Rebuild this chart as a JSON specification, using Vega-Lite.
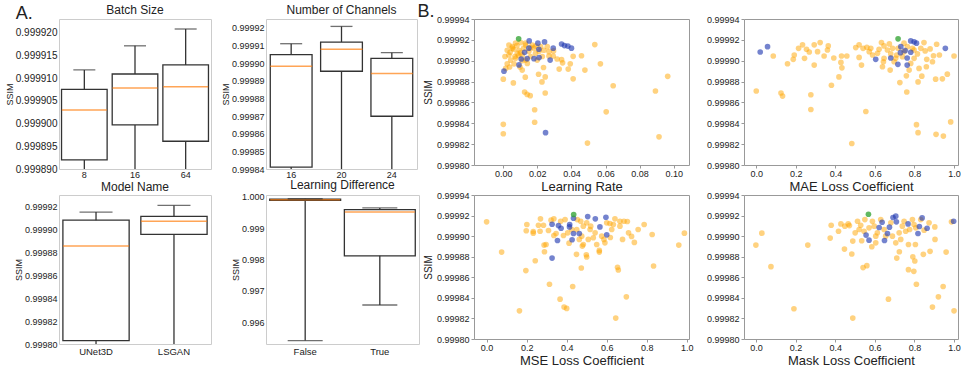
{
  "$schema": "https://vega.github.io/schema/vega-lite/v6.json",
  "padding": {"left": 4, "top": 2, "right": 0, "bottom": 0},
  "background": "white",
  "title": {"text": "A.", "anchor": "start", "frame": "bounds", "fontSize": 18, "offset": -20, "dx": 11},
  "columns": 4,
  "align": "none",
  "bounds": "flush",
  "spacing": {"row": 26, "column": 55},
  "concat": [
    {
      "width": 152, "height": 150,
      "title": {"text": "Batch Size"},
      "view": {"stroke": "#cccccc"},
      "data": {"values": [
        {"cat": "8", "lo": 0.99988, "q1": 0.999892, "med": 0.999903, "q3": 0.9999075, "hi": 0.9999118},
        {"cat": "16", "lo": 0.99988, "q1": 0.9998997, "med": 0.9999078, "q3": 0.9999109, "hi": 0.9999171},
        {"cat": "64", "lo": 0.99988, "q1": 0.9998961, "med": 0.9999081, "q3": 0.9999129, "hi": 0.9999208}
      ]},
      "encoding": {
        "x": {"field": "cat", "type": "nominal", "sort": null, "title": null,
              "scale": {"paddingInner": 0.1, "paddingOuter": 0.05},
              "axis": {"labelAngle": 0, "ticks": false, "labelPadding": 1, "labelFontSize": 9}}
      },
      "layer": [
        {"mark": {"type": "rule", "color": "#333333", "strokeWidth": 1.3, "clip": true},
         "encoding": {"y": {"field": "lo", "type": "quantitative", "title": "SSIM", "scale": {"domain": [0.99989, 0.999923], "zero": false, "nice": false},
            "axis": {"values": [0.99989, 0.999895, 0.9999, 0.999905, 0.99991, 0.999915, 0.99992], "format": ".6f", "labelOverlap": false, "labelFontSize": 10, "titleFontSize": 9, "titlePadding": 1, "ticks": false, "labelPadding": 2}},
          "y2": {"field": "hi"}}},
        {"mark": {"type": "bar", "fill": "white", "stroke": "#333333", "strokeWidth": 1.3, "clip": true},
         "encoding": {"y": {"field": "q1", "type": "quantitative", "title": "SSIM", "scale": {"domain": [0.99989, 0.999923], "zero": false, "nice": false},
            "axis": {"values": [0.99989, 0.999895, 0.9999, 0.999905, 0.99991, 0.999915, 0.99992], "format": ".6f", "labelOverlap": false, "labelFontSize": 10, "titleFontSize": 9, "titlePadding": 1, "ticks": false, "labelPadding": 2}}, "y2": {"field": "q3"}}},
        {"mark": {"type": "tick", "color": "#ff7f0e", "size": 45, "thickness": 1.5, "clip": true},
         "encoding": {"y": {"field": "med", "type": "quantitative", "title": "SSIM", "scale": {"domain": [0.99989, 0.999923], "zero": false, "nice": false},
            "axis": {"values": [0.99989, 0.999895, 0.9999, 0.999905, 0.99991, 0.999915, 0.99992], "format": ".6f", "labelOverlap": false, "labelFontSize": 10, "titleFontSize": 9, "titlePadding": 1, "ticks": false, "labelPadding": 2}}}},
        {"mark": {"type": "tick", "color": "#333333", "size": 22, "thickness": 1.3, "clip": true},
         "encoding": {"y": {"field": "hi", "type": "quantitative", "title": "SSIM", "scale": {"domain": [0.99989, 0.999923], "zero": false, "nice": false},
            "axis": {"values": [0.99989, 0.999895, 0.9999, 0.999905, 0.99991, 0.999915, 0.99992], "format": ".6f", "labelOverlap": false, "labelFontSize": 10, "titleFontSize": 9, "titlePadding": 1, "ticks": false, "labelPadding": 2}}}}
      ]
    },
    {
      "width": 151, "height": 150,
      "title": {"text": "Number of Channels"},
      "view": {"stroke": "#cccccc"},
      "data": {"values": [
        {"cat": "16", "lo": 0.99983, "q1": 0.9998411, "med": 0.9998982, "q3": 0.9999048, "hi": 0.999911},
        {"cat": "20", "lo": 0.99983, "q1": 0.9998954, "med": 0.9999078, "q3": 0.9999119, "hi": 0.9999208},
        {"cat": "24", "lo": 0.99983, "q1": 0.9998699, "med": 0.9998941, "q3": 0.9999027, "hi": 0.9999059}
      ]},
      "encoding": {
        "x": {"field": "cat", "type": "nominal", "sort": null, "title": null,
              "scale": {"paddingInner": 0.17, "paddingOuter": 0.085},
              "axis": {"labelAngle": 0, "ticks": false, "labelPadding": 1, "labelFontSize": 9}}
      },
      "layer": [
        {"mark": {"type": "rule", "color": "#333333", "strokeWidth": 1.3, "clip": true},
         "encoding": {"y": {"field": "lo", "type": "quantitative", "title": "SSIM", "scale": {"domain": [0.99984, 0.999925], "zero": false, "nice": false},
            "axis": {"values": [0.99984, 0.99985, 0.99986, 0.99987, 0.99988, 0.99989, 0.9999, 0.99991, 0.99992], "format": ".5f", "labelOverlap": false, "labelFontSize": 9, "titleFontSize": 9, "titlePadding": 1, "ticks": false, "labelPadding": 2}},
          "y2": {"field": "hi"}}},
        {"mark": {"type": "bar", "fill": "white", "stroke": "#333333", "strokeWidth": 1.3, "clip": true},
         "encoding": {"y": {"field": "q1", "type": "quantitative", "title": "SSIM", "scale": {"domain": [0.99984, 0.999925], "zero": false, "nice": false},
            "axis": {"values": [0.99984, 0.99985, 0.99986, 0.99987, 0.99988, 0.99989, 0.9999, 0.99991, 0.99992], "format": ".5f", "labelOverlap": false, "labelFontSize": 9, "titleFontSize": 9, "titlePadding": 1, "ticks": false, "labelPadding": 2}}, "y2": {"field": "q3"}}},
        {"mark": {"type": "tick", "color": "#ff7f0e", "size": 42, "thickness": 1.5, "clip": true},
         "encoding": {"y": {"field": "med", "type": "quantitative", "title": "SSIM", "scale": {"domain": [0.99984, 0.999925], "zero": false, "nice": false},
            "axis": {"values": [0.99984, 0.99985, 0.99986, 0.99987, 0.99988, 0.99989, 0.9999, 0.99991, 0.99992], "format": ".5f", "labelOverlap": false, "labelFontSize": 9, "titleFontSize": 9, "titlePadding": 1, "ticks": false, "labelPadding": 2}}}},
        {"mark": {"type": "tick", "color": "#333333", "size": 22, "thickness": 1.3, "clip": true},
         "encoding": {"y": {"field": "hi", "type": "quantitative", "title": "SSIM", "scale": {"domain": [0.99984, 0.999925], "zero": false, "nice": false},
            "axis": {"values": [0.99984, 0.99985, 0.99986, 0.99987, 0.99988, 0.99989, 0.9999, 0.99991, 0.99992], "format": ".5f", "labelOverlap": false, "labelFontSize": 9, "titleFontSize": 9, "titlePadding": 1, "ticks": false, "labelPadding": 2}}}}
      ]
    },
    {
      "width": 215, "height": 146,
      "title": {"text": "B.", "anchor": "start", "frame": "bounds", "fontSize": 18, "offset": -6, "dx": -6},
      "view": {"stroke": "#999999"},
      "data": {"values": [
        {"x":0.0537,"y":0.9999155,"g":"o"},{"x":0.041,"y":0.9999042,"g":"o"},{"x":0.0459,"y":0.9999048,"g":"o"},{"x":0.057,"y":0.999897,"g":"o"},{"x":0.0479,"y":0.999891,"g":"o"},{"x":0.041,"y":0.9998826,"g":"o"},{"x":0.0965,"y":0.999885,"g":"o"},{"x":0.0645,"y":0.999876,"g":"o"},{"x":0.0893,"y":0.999871,"g":"o"},{"x":0.0604,"y":0.999851,"g":"o"},{"x":0.0914,"y":0.999827,"g":"o"},{"x":0.0494,"y":0.999821,"g":"o"},{"x":0.0,"y":0.999839,"g":"o"},{"x":0.0,"y":0.99983,"g":"o"},{"x":0.0184,"y":0.999853,"g":"o"},{"x":0.0184,"y":0.999841,"g":"o"},{"x":0.0125,"y":0.99987,"g":"o"},{"x":0.014,"y":0.9998677,"g":"o"},{"x":0.0158,"y":0.9998665,"g":"o"},{"x":0.0246,"y":0.999869,"g":"o"},{"x":0.0,"y":0.9998823,"g":"o"},{"x":0.0059,"y":0.9998787,"g":"o"},{"x":0.0129,"y":0.9998842,"g":"o"},{"x":0.0227,"y":0.9998797,"g":"o"},{"x":0.0246,"y":0.9998845,"g":"o"},{"x":0.0207,"y":0.999887,"g":"o"},{"x":0.0236,"y":0.9998935,"g":"o"},{"x":0.0328,"y":0.999892,"g":"o"},{"x":0.0381,"y":0.999892,"g":"o"},{"x":0.0393,"y":0.999897,"g":"o"},{"x":0.0348,"y":0.999898,"g":"o"},{"x":0.0316,"y":0.9999016,"g":"o"},{"x":0.0342,"y":0.999901,"g":"o"},{"x":0.0293,"y":0.9999045,"g":"o"},{"x":0.0111,"y":0.999891,"g":"o"},{"x":0.0098,"y":0.999894,"g":"o"},{"x":0.0037,"y":0.999894,"g":"o"},{"x":0.0023,"y":0.999897,"g":"o"},{"x":0.0063,"y":0.999897,"g":"o"},{"x":0.001,"y":0.999904,"g":"o"},{"x":0.0033,"y":0.9999055,"g":"o"},{"x":0.0023,"y":0.99991,"g":"o"},{"x":0.0053,"y":0.999912,"g":"o"},{"x":0.0072,"y":0.999917,"g":"o"},{"x":0.0102,"y":0.9999174,"g":"o"},{"x":0.0131,"y":0.999915,"g":"o"},{"x":0.017,"y":0.999915,"g":"o"},{"x":0.0043,"y":0.9999006,"g":"o"},{"x":0.0082,"y":0.999907,"g":"o"},{"x":0.0111,"y":0.9999055,"g":"o"},{"x":0.0072,"y":0.9999023,"g":"o"},{"x":0.0131,"y":0.9999006,"g":"o"},{"x":0.016,"y":0.999904,"g":"o"},{"x":0.0189,"y":0.999907,"g":"o"},{"x":0.0219,"y":0.9999135,"g":"o"},{"x":0.0238,"y":0.99991,"g":"o"},{"x":0.0258,"y":0.9999135,"g":"o"},{"x":0.0268,"y":0.9999087,"g":"o"},{"x":0.018,"y":0.999912,"g":"o"},{"x":0.0053,"y":0.9999135,"g":"o"},{"x":0.0092,"y":0.99991,"g":"o"},{"x":0.0033,"y":0.999915,"g":"o"},{"x":0.0068,"y":0.999904,"g":"o"},{"x":0.0014,"y":0.9998926,"g":"o"},{"x":0.0111,"y":0.9999,"g":"o"},{"x":0.0102,"y":0.9999077,"g":"o"},{"x":0.0199,"y":0.9999006,"g":"o"},{"x":0.0229,"y":0.999904,"g":"o"},{"x":0.0141,"y":0.9998974,"g":"o"},{"x":0.0268,"y":0.9999045,"g":"o"},{"x":0.0295,"y":0.9999094,"g":"o"},{"x":0.006,"y":0.999911,"g":"o"},{"x":0.008,"y":0.9999145,"g":"o"},{"x":0.012,"y":0.999912,"g":"o"},{"x":0.015,"y":0.999909,"g":"o"},{"x":0.004,"y":0.999908,"g":"o"},{"x":0.009,"y":0.999905,"g":"o"},{"x":0.019,"y":0.999914,"g":"o"},{"x":0.021,"y":0.999909,"g":"o"},{"x":0.013,"y":0.999917,"g":"o"},{"x":0.016,"y":0.9999125,"g":"o"},
        {"x":0.0152,"y":0.999919,"g":"b"},{"x":0.0203,"y":0.9999168,"g":"b"},{"x":0.0242,"y":0.999918,"g":"b"},{"x":0.0293,"y":0.999912,"g":"b"},{"x":0.0342,"y":0.999916,"g":"b"},{"x":0.0359,"y":0.9999145,"g":"b"},{"x":0.0379,"y":0.999914,"g":"b"},{"x":0.04,"y":0.999912,"g":"b"},{"x":0.0125,"y":0.999908,"g":"b"},{"x":0.015,"y":0.999912,"g":"b"},{"x":0.018,"y":0.999902,"g":"b"},{"x":0.021,"y":0.999903,"g":"b"},{"x":0.014,"y":0.999902,"g":"b"},{"x":0.0275,"y":0.9999006,"g":"b"},{"x":0.0092,"y":0.999896,"g":"b"},{"x":0.0004,"y":0.99989,"g":"b"},{"x":0.0248,"y":0.999831,"g":"b"},{"x":0.0209,"y":0.999911,"g":"b"},{"x":0.0105,"y":0.9999016,"g":"b"},
        {"x":0.009,"y":0.999921,"g":"g"}
      ]},
      "mark": {"type": "circle", "size": 32},
      "encoding": {
        "x": {"field": "x", "type": "quantitative", "title": "Learning Rate", "scale": {"domain": [-0.0172, 0.109], "nice": false, "zero": false},
              "axis": {"values": [0, 0.02, 0.04, 0.06, 0.08, 0.1], "format": ".2f", "labelFontSize": 9, "titleFontSize": 13, "tickSize": 3, "tickColor": "#999999", "labelPadding": 1, "titlePadding": 2}},
        "y": {"field": "y", "type": "quantitative", "title": "SSIM", "scale": {"domain": [0.9998, 0.99994], "nice": false, "zero": false},
              "axis": {"values": [0.9998, 0.99982, 0.99984, 0.99986, 0.99988, 0.9999, 0.99992, 0.99994], "format": ".5f", "labelFontSize": 9, "titleFontSize": 10, "tickSize": 3, "tickColor": "#999999", "titlePadding": 3}},
        "color": {"field": "g", "type": "nominal", "scale": {"domain": ["o", "b", "g"], "range": ["#ffa500", "#2038b0", "#2ca02c"]}, "legend": null},
        "opacity": {"field": "g", "type": "ordinal", "scale": {"domain": ["o", "b", "g"], "range": [0.5, 0.75, 0.85]}, "legend": null}
      }
    },
    {
      "width": 214, "height": 146,
      "view": {"stroke": "#999999"},
      "data": {"values": [
        {"x":0.0,"y":0.999871,"g":"o"},{"x":0.086,"y":0.9999045,"g":"o"},{"x":0.125,"y":0.999869,"g":"o"},{"x":0.133,"y":0.9998661,"g":"o"},{"x":0.158,"y":0.9998971,"g":"o"},{"x":0.187,"y":0.9999013,"g":"o"},{"x":0.192,"y":0.9999055,"g":"o"},{"x":0.214,"y":0.9999119,"g":"o"},{"x":0.234,"y":0.9999152,"g":"o"},{"x":0.254,"y":0.999911,"g":"o"},{"x":0.244,"y":0.9999023,"g":"o"},{"x":0.268,"y":0.9999084,"g":"o"},{"x":0.293,"y":0.9998958,"g":"o"},{"x":0.293,"y":0.9999152,"g":"o"},{"x":0.31,"y":0.9999087,"g":"o"},{"x":0.323,"y":0.9999174,"g":"o"},{"x":0.343,"y":0.9999045,"g":"o"},{"x":0.36,"y":0.9999103,"g":"o"},{"x":0.364,"y":0.9999142,"g":"o"},{"x":0.276,"y":0.9998674,"g":"o"},{"x":0.276,"y":0.9998532,"g":"o"},{"x":0.38,"y":0.9998765,"g":"o"},{"x":0.418,"y":0.9998845,"g":"o"},{"x":0.433,"y":0.9998932,"g":"o"},{"x":0.428,"y":0.9998984,"g":"o"},{"x":0.392,"y":0.9999026,"g":"o"},{"x":0.458,"y":0.9999045,"g":"o"},{"x":0.503,"y":0.9999126,"g":"o"},{"x":0.52,"y":0.9999032,"g":"o"},{"x":0.532,"y":0.9998958,"g":"o"},{"x":0.554,"y":0.9998513,"g":"o"},{"x":0.483,"y":0.9998206,"g":"o"},{"x":0.52,"y":0.9999152,"g":"o"},{"x":0.559,"y":0.9999129,"g":"o"},{"x":0.571,"y":0.9999087,"g":"o"},{"x":0.588,"y":0.9999055,"g":"o"},{"x":0.621,"y":0.999911,"g":"o"},{"x":0.633,"y":0.9999174,"g":"o"},{"x":0.646,"y":0.9999142,"g":"o"},{"x":0.663,"y":0.9999103,"g":"o"},{"x":0.673,"y":0.9999161,"g":"o"},{"x":0.689,"y":0.9999119,"g":"o"},{"x":0.638,"y":0.9998942,"g":"o"},{"x":0.643,"y":0.999899,"g":"o"},{"x":0.677,"y":0.999891,"g":"o"},{"x":0.697,"y":0.999899,"g":"o"},{"x":0.71,"y":0.9999055,"g":"o"},{"x":0.726,"y":0.999879,"g":"o"},{"x":0.761,"y":0.99987,"g":"o"},{"x":0.759,"y":0.9998855,"g":"o"},{"x":0.773,"y":0.999891,"g":"o"},{"x":0.781,"y":0.9998974,"g":"o"},{"x":0.798,"y":0.9999023,"g":"o"},{"x":0.815,"y":0.9999065,"g":"o"},{"x":0.823,"y":0.9998926,"g":"o"},{"x":0.818,"y":0.9998797,"g":"o"},{"x":0.837,"y":0.9998852,"g":"o"},{"x":0.848,"y":0.9999174,"g":"o"},{"x":0.854,"y":0.9999094,"g":"o"},{"x":0.862,"y":0.9999013,"g":"o"},{"x":0.86,"y":0.9998942,"g":"o"},{"x":0.879,"y":0.9999113,"g":"o"},{"x":0.891,"y":0.999899,"g":"o"},{"x":0.896,"y":0.9999048,"g":"o"},{"x":0.907,"y":0.9998823,"g":"o"},{"x":0.912,"y":0.9999158,"g":"o"},{"x":0.926,"y":0.9999055,"g":"o"},{"x":0.941,"y":0.9998826,"g":"o"},{"x":0.966,"y":0.9998871,"g":"o"},{"x":1.0,"y":0.9999045,"g":"o"},{"x":0.81,"y":0.9998387,"g":"o"},{"x":0.818,"y":0.999831,"g":"o"},{"x":0.909,"y":0.9998294,"g":"o"},{"x":0.946,"y":0.9998277,"g":"o"},{"x":0.983,"y":0.9998413,"g":"o"},{"x":0.747,"y":0.9999168,"g":"o"},{"x":0.764,"y":0.9999135,"g":"o"},{"x":0.79,"y":0.9999119,"g":"o"},{"x":0.739,"y":0.9999039,"g":"o"},{"x":0.705,"y":0.9999023,"g":"o"},{"x":0.613,"y":0.9999071,"g":"o"},{"x":0.68,"y":0.9999065,"g":"o"},{"x":0.747,"y":0.9999087,"g":"o"},{"x":0.798,"y":0.9999103,"g":"o"},{"x":0.579,"y":0.9999119,"g":"o"},{"x":0.431,"y":0.9999045,"g":"o"},{"x":0.54,"y":0.9999119,"g":"o"},{"x":0.646,"y":0.9999023,"g":"o"},{"x":0.717,"y":0.9999119,"g":"o"},{"x":0.832,"y":0.9999119,"g":"o"},
        {"x":0.02,"y":0.9999084,"g":"b"},{"x":0.057,"y":0.9999135,"g":"b"},{"x":0.604,"y":0.9999013,"g":"b"},{"x":0.68,"y":0.9999026,"g":"b"},{"x":0.716,"y":0.9998965,"g":"b"},{"x":0.763,"y":0.9998958,"g":"b"},{"x":0.763,"y":0.9999026,"g":"b"},{"x":0.729,"y":0.9999077,"g":"b"},{"x":0.753,"y":0.9999097,"g":"b"},{"x":0.781,"y":0.999919,"g":"b"},{"x":0.798,"y":0.9999181,"g":"b"},{"x":0.81,"y":0.9999168,"g":"b"},{"x":0.956,"y":0.9999119,"g":"b"},{"x":0.781,"y":0.9999081,"g":"b"},{"x":0.731,"y":0.9999135,"g":"b"},
        {"x":0.717,"y":0.999921,"g":"g"}
      ]},
      "mark": {"type": "circle", "size": 32},
      "encoding": {
        "x": {"field": "x", "type": "quantitative", "title": "MAE Loss Coefficient", "scale": {"domain": [-0.062, 1.02], "nice": false, "zero": false},
              "axis": {"values": [0, 0.2, 0.4, 0.6, 0.8, 1.0], "format": ".1f", "labelFontSize": 9, "titleFontSize": 13, "tickSize": 3, "tickColor": "#999999", "labelPadding": 1, "titlePadding": 2}},
        "y": {"field": "y", "type": "quantitative", "title": null, "scale": {"domain": [0.9998, 0.99994], "nice": false, "zero": false},
              "axis": {"values": [0.9998, 0.99982, 0.99984, 0.99986, 0.99988, 0.9999, 0.99992, 0.99994], "format": ".5f", "labelFontSize": 9, "tickSize": 3, "tickColor": "#999999"}},
        "color": {"field": "g", "type": "nominal", "scale": {"domain": ["o", "b", "g"], "range": ["#ffa500", "#2038b0", "#2ca02c"]}, "legend": null},
        "opacity": {"field": "g", "type": "ordinal", "scale": {"domain": ["o", "b", "g"], "range": [0.5, 0.75, 0.85]}, "legend": null}
      }
    },
    {
      "width": 152, "height": 149,
      "title": {"text": "Model Name", "offset": 1},
      "view": {"stroke": "#cccccc"},
      "data": {"values": [
        {"cat": "UNet3D", "lo": 0.99978, "q1": 0.9998029, "med": 0.9998856, "q3": 0.999908, "hi": 0.9999151},
        {"cat": "LSGAN", "lo": 0.99978, "q1": 0.9998957, "med": 0.9999071, "q3": 0.9999114, "hi": 0.9999209}
      ]},
      "encoding": {
        "x": {"field": "cat", "type": "nominal", "sort": null, "title": null,
              "scale": {"paddingInner": 0.15, "paddingOuter": 0.05},
              "axis": {"labelAngle": 0, "ticks": false, "labelPadding": 2, "labelFontSize": 9.5}}
      },
      "layer": [
        {"mark": {"type": "rule", "color": "#333333", "strokeWidth": 1.3, "clip": true},
         "encoding": {"y": {"field": "lo", "type": "quantitative", "title": "SSIM", "scale": {"domain": [0.9998, 0.99993], "zero": false, "nice": false},
            "axis": {"values": [0.9998, 0.99982, 0.99984, 0.99986, 0.99988, 0.9999, 0.99992], "format": ".5f", "labelOverlap": false, "labelFontSize": 9, "titleFontSize": 9, "titlePadding": 1, "ticks": false, "labelPadding": 2}},
          "y2": {"field": "hi"}}},
        {"mark": {"type": "bar", "fill": "white", "stroke": "#333333", "strokeWidth": 1.3, "clip": true},
         "encoding": {"y": {"field": "q1", "type": "quantitative", "title": "SSIM", "scale": {"domain": [0.9998, 0.99993], "zero": false, "nice": false},
            "axis": {"values": [0.9998, 0.99982, 0.99984, 0.99986, 0.99988, 0.9999, 0.99992], "format": ".5f", "labelOverlap": false, "labelFontSize": 9, "titleFontSize": 9, "titlePadding": 1, "ticks": false, "labelPadding": 2}}, "y2": {"field": "q3"}}},
        {"mark": {"type": "tick", "color": "#ff7f0e", "size": 66, "thickness": 1.5, "clip": true},
         "encoding": {"y": {"field": "med", "type": "quantitative", "title": "SSIM", "scale": {"domain": [0.9998, 0.99993], "zero": false, "nice": false},
            "axis": {"values": [0.9998, 0.99982, 0.99984, 0.99986, 0.99988, 0.9999, 0.99992], "format": ".5f", "labelOverlap": false, "labelFontSize": 9, "titleFontSize": 9, "titlePadding": 1, "ticks": false, "labelPadding": 2}}}},
        {"mark": {"type": "tick", "color": "#333333", "size": 33, "thickness": 1.3, "clip": true},
         "encoding": {"y": {"field": "hi", "type": "quantitative", "title": "SSIM", "scale": {"domain": [0.9998, 0.99993], "zero": false, "nice": false},
            "axis": {"values": [0.9998, 0.99982, 0.99984, 0.99986, 0.99988, 0.9999, 0.99992], "format": ".5f", "labelOverlap": false, "labelFontSize": 9, "titleFontSize": 9, "titlePadding": 1, "ticks": false, "labelPadding": 2}}}}
      ]
    },
    {
      "width": 153, "height": 149,
      "title": {"text": "Learning Difference", "offset": 1},
      "view": {"stroke": "#cccccc"},
      "data": {"values": [
        {"cat": "False", "lo": 0.995418, "q1": 0.99988, "med": 0.9999, "q3": 0.99992, "hi": 0.99993},
        {"cat": "True", "lo": 0.99655, "q1": 0.998116, "med": 0.999513, "q3": 0.999587, "hi": 0.99964}
      ]},
      "encoding": {
        "x": {"field": "cat", "type": "nominal", "sort": null, "title": null,
              "scale": {"paddingInner": 0.05, "paddingOuter": 0.05},
              "axis": {"labelAngle": 0, "ticks": false, "labelPadding": 2, "labelFontSize": 9.5}}
      },
      "layer": [
        {"mark": {"type": "rule", "color": "#333333", "strokeWidth": 1.3, "clip": true},
         "encoding": {"y": {"field": "lo", "type": "quantitative", "title": "SSIM", "scale": {"domain": [0.99531, 1.00005], "zero": false, "nice": false},
            "axis": {"values": [0.996, 0.997, 0.998, 0.999, 1.0], "format": ".3f", "labelOverlap": false, "labelFontSize": 9, "titleFontSize": 9, "titlePadding": 1, "ticks": false, "labelPadding": 2}},
          "y2": {"field": "hi"}}},
        {"mark": {"type": "bar", "fill": "white", "stroke": "#333333", "strokeWidth": 1.3, "clip": true},
         "encoding": {"y": {"field": "q1", "type": "quantitative", "title": "SSIM", "scale": {"domain": [0.99531, 1.00005], "zero": false, "nice": false},
            "axis": {"values": [0.996, 0.997, 0.998, 0.999, 1.0], "format": ".3f", "labelOverlap": false, "labelFontSize": 9, "titleFontSize": 9, "titlePadding": 1, "ticks": false, "labelPadding": 2}}, "y2": {"field": "q3"}}},
        {"mark": {"type": "tick", "color": "#ff7f0e", "size": 70, "thickness": 1.5, "clip": true},
         "encoding": {"y": {"field": "med", "type": "quantitative", "title": "SSIM", "scale": {"domain": [0.99531, 1.00005], "zero": false, "nice": false},
            "axis": {"values": [0.996, 0.997, 0.998, 0.999, 1.0], "format": ".3f", "labelOverlap": false, "labelFontSize": 9, "titleFontSize": 9, "titlePadding": 1, "ticks": false, "labelPadding": 2}}}},
        {"mark": {"type": "tick", "color": "#333333", "size": 35, "thickness": 1.3, "clip": true},
         "encoding": {"y": {"field": "hi", "type": "quantitative", "title": "SSIM", "scale": {"domain": [0.99531, 1.00005], "zero": false, "nice": false},
            "axis": {"values": [0.996, 0.997, 0.998, 0.999, 1.0], "format": ".3f", "labelOverlap": false, "labelFontSize": 9, "titleFontSize": 9, "titlePadding": 1, "ticks": false, "labelPadding": 2}}}},
        {"mark": {"type": "tick", "color": "#333333", "size": 35, "thickness": 1.3, "clip": true},
         "encoding": {"y": {"field": "lo", "type": "quantitative", "title": "SSIM", "scale": {"domain": [0.99531, 1.00005], "zero": false, "nice": false},
            "axis": {"values": [0.996, 0.997, 0.998, 0.999, 1.0], "format": ".3f", "labelOverlap": false, "labelFontSize": 9, "titleFontSize": 9, "titlePadding": 1, "ticks": false, "labelPadding": 2}}}}
      ]
    },
    {
      "width": 215, "height": 144,
      "view": {"stroke": "#999999"},
      "data": {"values": [
        {"x":0.0,"y":0.9999139,"g":"o"},{"x":0.075,"y":0.9998845,"g":"o"},{"x":0.196,"y":0.9998665,"g":"o"},{"x":0.243,"y":0.9998761,"g":"o"},{"x":0.164,"y":0.9998274,"g":"o"},{"x":0.314,"y":0.9998532,"g":"o"},{"x":0.367,"y":0.9998387,"g":"o"},{"x":0.387,"y":0.999831,"g":"o"},{"x":0.4,"y":0.9998297,"g":"o"},{"x":0.43,"y":0.999851,"g":"o"},{"x":0.473,"y":0.999869,"g":"o"},{"x":0.449,"y":0.9998823,"g":"o"},{"x":0.498,"y":0.9998819,"g":"o"},{"x":0.5,"y":0.9998797,"g":"o"},{"x":0.645,"y":0.9998203,"g":"o"},{"x":0.698,"y":0.999841,"g":"o"},{"x":0.654,"y":0.9998697,"g":"o"},{"x":0.658,"y":0.9998671,"g":"o"},{"x":0.834,"y":0.999871,"g":"o"},{"x":0.96,"y":0.9998913,"g":"o"},{"x":0.988,"y":0.9999029,"g":"o"},{"x":0.827,"y":0.9999016,"g":"o"},{"x":0.787,"y":0.9999113,"g":"o"},{"x":0.757,"y":0.9999065,"g":"o"},{"x":0.738,"y":0.9998939,"g":"o"},{"x":0.724,"y":0.9998997,"g":"o"},{"x":0.709,"y":0.9999032,"g":"o"},{"x":0.679,"y":0.9998968,"g":"o"},{"x":0.703,"y":0.9999142,"g":"o"},{"x":0.686,"y":0.9999145,"g":"o"},{"x":0.666,"y":0.9999097,"g":"o"},{"x":0.641,"y":0.9999168,"g":"o"},{"x":0.616,"y":0.9999123,"g":"o"},{"x":0.625,"y":0.9999065,"g":"o"},{"x":0.618,"y":0.9998987,"g":"o"},{"x":0.591,"y":0.9998935,"g":"o"},{"x":0.563,"y":0.9998861,"g":"o"},{"x":0.563,"y":0.9998845,"g":"o"},{"x":0.55,"y":0.9998919,"g":"o"},{"x":0.533,"y":0.9998984,"g":"o"},{"x":0.517,"y":0.9999065,"g":"o"},{"x":0.5,"y":0.9999129,"g":"o"},{"x":0.483,"y":0.9999097,"g":"o"},{"x":0.47,"y":0.9999145,"g":"o"},{"x":0.453,"y":0.9999161,"g":"o"},{"x":0.475,"y":0.9999,"g":"o"},{"x":0.483,"y":0.9998919,"g":"o"},{"x":0.478,"y":0.9998903,"g":"o"},{"x":0.463,"y":0.9998968,"g":"o"},{"x":0.508,"y":0.9998968,"g":"o"},{"x":0.542,"y":0.9999032,"g":"o"},{"x":0.575,"y":0.9999,"g":"o"},{"x":0.586,"y":0.9998968,"g":"o"},{"x":0.289,"y":0.9998848,"g":"o"},{"x":0.287,"y":0.9998913,"g":"o"},{"x":0.297,"y":0.9998919,"g":"o"},{"x":0.267,"y":0.9999048,"g":"o"},{"x":0.269,"y":0.9999168,"g":"o"},{"x":0.284,"y":0.9999106,"g":"o"},{"x":0.259,"y":0.9999106,"g":"o"},{"x":0.233,"y":0.9999045,"g":"o"},{"x":0.233,"y":0.9999029,"g":"o"},{"x":0.201,"y":0.9999113,"g":"o"},{"x":0.198,"y":0.9999052,"g":"o"},{"x":0.309,"y":0.9999055,"g":"o"},{"x":0.322,"y":0.9999155,"g":"o"},{"x":0.336,"y":0.9999168,"g":"o"},{"x":0.347,"y":0.9999026,"g":"o"},{"x":0.336,"y":0.9999006,"g":"o"},{"x":0.37,"y":0.9999145,"g":"o"},{"x":0.392,"y":0.9999161,"g":"o"},{"x":0.405,"y":0.9999032,"g":"o"},{"x":0.412,"y":0.9998932,"g":"o"},{"x":0.384,"y":0.9999006,"g":"o"},{"x":0.45,"y":0.9999065,"g":"o"},{"x":0.52,"y":0.9999097,"g":"o"},{"x":0.6,"y":0.9999129,"g":"o"},{"x":0.633,"y":0.9999113,"g":"o"},{"x":0.666,"y":0.9999145,"g":"o"},{"x":0.425,"y":0.9999065,"g":"o"},
        {"x":0.505,"y":0.999919,"g":"b"},{"x":0.543,"y":0.9999168,"g":"b"},{"x":0.596,"y":0.9999184,"g":"b"},{"x":0.327,"y":0.9999116,"g":"b"},{"x":0.359,"y":0.9999103,"g":"b"},{"x":0.415,"y":0.9999113,"g":"b"},{"x":0.414,"y":0.999909,"g":"b"},{"x":0.434,"y":0.9999026,"g":"b"},{"x":0.463,"y":0.9999026,"g":"b"},{"x":0.354,"y":0.9998958,"g":"b"},{"x":0.327,"y":0.9998787,"g":"b"},{"x":0.427,"y":0.9998965,"g":"b"},{"x":0.6,"y":0.9999013,"g":"b"},{"x":0.372,"y":0.9999077,"g":"b"},{"x":0.566,"y":0.999909,"g":"b"},{"x":0.434,"y":0.9999174,"g":"b"},
        {"x":0.435,"y":0.999921,"g":"g"}
      ]},
      "mark": {"type": "circle", "size": 32},
      "encoding": {
        "x": {"field": "x", "type": "quantitative", "title": "MSE Loss Coefficient", "scale": {"domain": [-0.063, 1.011], "nice": false, "zero": false},
              "axis": {"values": [0, 0.2, 0.4, 0.6, 0.8, 1.0], "format": ".1f", "labelFontSize": 9, "titleFontSize": 13, "tickSize": 3, "tickColor": "#999999", "labelPadding": 1, "titlePadding": 2}},
        "y": {"field": "y", "type": "quantitative", "title": "SSIM", "scale": {"domain": [0.9998, 0.99994], "nice": false, "zero": false},
              "axis": {"values": [0.9998, 0.99982, 0.99984, 0.99986, 0.99988, 0.9999, 0.99992, 0.99994], "format": ".5f", "labelFontSize": 9, "titleFontSize": 10, "tickSize": 3, "tickColor": "#999999", "titlePadding": 3}},
        "color": {"field": "g", "type": "nominal", "scale": {"domain": ["o", "b", "g"], "range": ["#ffa500", "#2038b0", "#2ca02c"]}, "legend": null},
        "opacity": {"field": "g", "type": "ordinal", "scale": {"domain": ["o", "b", "g"], "range": [0.5, 0.75, 0.85]}, "legend": null}
      }
    },
    {
      "width": 214, "height": 144,
      "view": {"stroke": "#999999"},
      "data": {"values": [
        {"x":0.0,"y":0.9998913,"g":"o"},{"x":0.03,"y":0.9999029,"g":"o"},{"x":0.076,"y":0.9998703,"g":"o"},{"x":0.192,"y":0.9998294,"g":"o"},{"x":0.262,"y":0.9998913,"g":"o"},{"x":0.375,"y":0.9998981,"g":"o"},{"x":0.38,"y":0.9999106,"g":"o"},{"x":0.417,"y":0.9999048,"g":"o"},{"x":0.429,"y":0.9999119,"g":"o"},{"x":0.449,"y":0.9999097,"g":"o"},{"x":0.466,"y":0.9999119,"g":"o"},{"x":0.472,"y":0.9999103,"g":"o"},{"x":0.447,"y":0.9998874,"g":"o"},{"x":0.484,"y":0.9998826,"g":"o"},{"x":0.489,"y":0.9998952,"g":"o"},{"x":0.489,"y":0.9998203,"g":"o"},{"x":0.541,"y":0.9998694,"g":"o"},{"x":0.56,"y":0.9998713,"g":"o"},{"x":0.501,"y":0.9999032,"g":"o"},{"x":0.513,"y":0.9999145,"g":"o"},{"x":0.529,"y":0.9999106,"g":"o"},{"x":0.534,"y":0.9998955,"g":"o"},{"x":0.521,"y":0.9999065,"g":"o"},{"x":0.55,"y":0.9999161,"g":"o"},{"x":0.588,"y":0.9999145,"g":"o"},{"x":0.597,"y":0.9999097,"g":"o"},{"x":0.585,"y":0.9998897,"g":"o"},{"x":0.605,"y":0.9998935,"g":"o"},{"x":0.613,"y":0.9999032,"g":"o"},{"x":0.63,"y":0.9999161,"g":"o"},{"x":0.647,"y":0.9999065,"g":"o"},{"x":0.669,"y":0.9998387,"g":"o"},{"x":0.711,"y":0.9998787,"g":"o"},{"x":0.724,"y":0.9998848,"g":"o"},{"x":0.706,"y":0.9998935,"g":"o"},{"x":0.731,"y":0.9998968,"g":"o"},{"x":0.748,"y":0.9999145,"g":"o"},{"x":0.756,"y":0.9999048,"g":"o"},{"x":0.77,"y":0.9998919,"g":"o"},{"x":0.776,"y":0.9999065,"g":"o"},{"x":0.79,"y":0.9999161,"g":"o"},{"x":0.798,"y":0.9999113,"g":"o"},{"x":0.805,"y":0.9998919,"g":"o"},{"x":0.792,"y":0.99988,"g":"o"},{"x":0.802,"y":0.9998758,"g":"o"},{"x":0.77,"y":0.9998674,"g":"o"},{"x":0.797,"y":0.9998658,"g":"o"},{"x":0.81,"y":0.9998532,"g":"o"},{"x":0.845,"y":0.9998823,"g":"o"},{"x":0.879,"y":0.9998852,"g":"o"},{"x":0.904,"y":0.9998968,"g":"o"},{"x":0.903,"y":0.999909,"g":"o"},{"x":0.874,"y":0.9999129,"g":"o"},{"x":0.849,"y":0.9999058,"g":"o"},{"x":0.832,"y":0.9999161,"g":"o"},{"x":0.807,"y":0.9999081,"g":"o"},{"x":0.96,"y":0.9998845,"g":"o"},{"x":0.987,"y":0.9999139,"g":"o"},{"x":0.945,"y":0.999851,"g":"o"},{"x":0.921,"y":0.999841,"g":"o"},{"x":0.891,"y":0.999831,"g":"o"},{"x":1.0,"y":0.9998274,"g":"o"},{"x":0.681,"y":0.9999129,"g":"o"},{"x":0.723,"y":0.9999032,"g":"o"},{"x":0.739,"y":0.9999097,"g":"o"},{"x":0.689,"y":0.9999,"g":"o"},{"x":0.655,"y":0.9999,"g":"o"},{"x":0.605,"y":0.9999,"g":"o"},{"x":0.546,"y":0.9999048,"g":"o"},{"x":0.571,"y":0.9999081,"g":"o"},
        {"x":0.692,"y":0.9999181,"g":"b"},{"x":0.706,"y":0.9999194,"g":"b"},{"x":0.839,"y":0.9999177,"g":"b"},{"x":0.998,"y":0.9999145,"g":"b"},{"x":0.637,"y":0.9999135,"g":"b"},{"x":0.674,"y":0.9999087,"g":"b"},{"x":0.709,"y":0.9999139,"g":"b"},{"x":0.768,"y":0.9999119,"g":"b"},{"x":0.825,"y":0.9999094,"g":"b"},{"x":0.864,"y":0.9999077,"g":"b"},{"x":0.664,"y":0.9999026,"g":"b"},{"x":0.556,"y":0.999901,"g":"b"},{"x":0.571,"y":0.9998961,"g":"b"},{"x":0.649,"y":0.9998958,"g":"b"},{"x":0.818,"y":0.9999026,"g":"b"},{"x":0.622,"y":0.9999084,"g":"b"},
        {"x":0.568,"y":0.9999213,"g":"g"}
      ]},
      "mark": {"type": "circle", "size": 32},
      "encoding": {
        "x": {"field": "x", "type": "quantitative", "title": "Mask Loss Coefficient", "scale": {"domain": [-0.06, 1.02], "nice": false, "zero": false},
              "axis": {"values": [0, 0.2, 0.4, 0.6, 0.8, 1.0], "format": ".1f", "labelFontSize": 9, "titleFontSize": 13, "tickSize": 3, "tickColor": "#999999", "labelPadding": 1, "titlePadding": 2}},
        "y": {"field": "y", "type": "quantitative", "title": null, "scale": {"domain": [0.9998, 0.99994], "nice": false, "zero": false},
              "axis": {"values": [0.9998, 0.99982, 0.99984, 0.99986, 0.99988, 0.9999, 0.99992, 0.99994], "format": ".5f", "labelFontSize": 9, "tickSize": 3, "tickColor": "#999999"}},
        "color": {"field": "g", "type": "nominal", "scale": {"domain": ["o", "b", "g"], "range": ["#ffa500", "#2038b0", "#2ca02c"]}, "legend": null},
        "opacity": {"field": "g", "type": "ordinal", "scale": {"domain": ["o", "b", "g"], "range": [0.5, 0.75, 0.85]}, "legend": null}
      }
    }
  ],
  "config": {
    "font": "Liberation Sans",
    "view": {"stroke": "#cccccc"},
    "axis": {"domain": false, "grid": false, "labelOverlap": false, "labelColor": "#222222", "titleColor": "#222222", "titleFontWeight": "normal", "labelFont": "Liberation Sans", "titleFont": "Liberation Sans"},
    "title": {"fontWeight": "normal", "fontSize": 12, "color": "#222222", "offset": 2, "baseline": "alphabetic", "font": "Liberation Sans"}
  }
}
